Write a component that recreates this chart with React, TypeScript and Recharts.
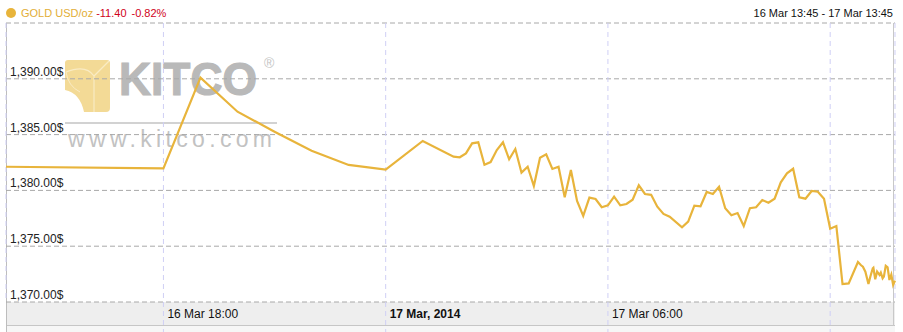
import React from "react";
import { LineChart, Line, XAxis, YAxis, CartesianGrid } from "recharts";

// minutes since 16 Mar 13:45
const minutes = [
  0, 255, 315, 375, 435, 495, 555, 615, 675, 725, 735, 745, 755, 765, 775, 785, 795, 805, 815, 825,
  835, 845, 855, 865, 875, 885, 895, 905, 915, 925, 935, 945, 955, 965, 975, 985, 995, 1005, 1015,
  1025, 1035, 1045, 1055, 1065, 1075, 1095, 1105, 1115, 1125, 1135, 1145, 1155, 1165, 1175, 1185,
  1195, 1205, 1215, 1225, 1235, 1245, 1255, 1265, 1275, 1285, 1295, 1305, 1315, 1325, 1335, 1345,
  1355, 1365, 1380, 1385, 1388, 1392, 1397, 1400, 1404, 1405, 1408, 1411, 1415, 1417, 1420, 1422,
  1425, 1428, 1431, 1434, 1437, 1440,
];

const prices = [
  1382.12, 1381.98, 1390.1, 1387.05, 1385.26, 1383.56, 1382.28, 1381.87, 1384.43, 1383.02, 1382.97,
  1383.32, 1384.22, 1384.31, 1382.3, 1382.54, 1383.62, 1384.31, 1382.79, 1383.71, 1381.59, 1382.12,
  1380.39, 1382.93, 1383.23, 1381.92, 1382.12, 1379.38, 1381.83, 1379.05, 1377.71, 1379.35, 1379.23,
  1378.49, 1378.66, 1379.44, 1378.66, 1378.78, 1379.17, 1380.46, 1379.68, 1379.6, 1378.54, 1377.89,
  1377.64, 1376.69, 1377.2, 1378.63, 1378.58, 1379.86, 1379.68, 1380.33, 1378.4, 1377.77, 1377.97,
  1376.81, 1378.4, 1378.49, 1379.14, 1378.9, 1379.26, 1380.73, 1381.53, 1381.94, 1379.38, 1379.26,
  1379.95, 1379.88, 1379.26, 1376.57, 1376.81, 1371.61, 1371.67, 1373.58, 1373.29, 1373.16, 1372.72,
  1371.61, 1372.27, 1373.02, 1373.07, 1372.03, 1372.72, 1372.42, 1372.63, 1372.12, 1372.27, 1373.25,
  1373.11, 1371.97, 1372.45, 1371.52, 1371.91,
];

const xTicks = [255, 615, 975, 1335];
const xTickLabels = ["16 Mar 18:00", "17 Mar, 2014", "17 Mar 06:00", ""];
const yTicks = [1370, 1375, 1380, 1385, 1390, 1395];
const yLabelTicks = [1370, 1375, 1380, 1385, 1390];

const title = "GOLD USD/oz";
const change = "-11.40";
const changePct = "-0.82%";
const rangeLabel = "16 Mar 13:45 - 17 Mar 13:45";

const data = minutes.map((t, i) => ({ t, price: prices[i] }));

const W = 903;
const H = 332;
const LEFT = 6;
const RIGHT = 895;
const TOP = 23;
const BOTTOM = 302;
const FONT = "'Liberation Sans', Arial, Helvetica, sans-serif";
const GOLD = "#e8b43b";

const YTick = (props: any) => {
  const { y, payload } = props;
  if (!yLabelTicks.includes(payload.value)) return <g />;
  const label =
    payload.value.toLocaleString("en-US", { minimumFractionDigits: 2, maximumFractionDigits: 2 }) + "$";
  return (
    <text x={LEFT + 4} y={y - 3} fontSize={12} fontFamily={FONT} fill="#222" textAnchor="start">
      {label}
    </text>
  );
};

const XTick = (props: any) => {
  const { x, payload } = props;
  const idx = xTicks.indexOf(payload.value);
  const label = idx >= 0 ? xTickLabels[idx] : "";
  return (
    <g>
      <line x1={x} x2={x} y1={BOTTOM} y2={H} stroke="#cfcff5" strokeDasharray="5 4" />
      <text
        x={x + 4}
        y={318}
        fontSize={12}
        fontFamily={FONT}
        fill="#111"
        fontWeight={idx === 1 ? 700 : 400}
        textAnchor="start"
      >
        {label}
      </text>
    </g>
  );
};

const Background = () => (
  <svg width={W} height={H} style={{ position: "absolute", left: 0, top: 0 }}>
    <rect x={0} y={0} width={W} height={H} fill="#fff" />
    {/* header */}
    <circle cx={11} cy={13} r={5} fill={GOLD} />
    <text x={21} y={17} fontSize={11} fontFamily={FONT}>
      <tspan fill="#e2ae36">{title}</tspan>
      <tspan fill="#d0021b" dx={3}>{change}</tspan>
      <tspan fill="#d0021b" dx={5}>{changePct}</tspan>
    </text>
    <text x={893} y={17} fontSize={11} fontFamily={FONT} fill="#111" textAnchor="end">
      {rangeLabel}
    </text>
    {/* watermark */}
    <path
      d="M65,63 Q65,60 68,60 L107,60 Q110,60 110,63 L110,108 Q110,112 106,112 L84,112 Q80,93 65,90 Z"
      fill="#f3da96"
    />
    <path d="M66,72 Q86,64 94,76 L94,112" fill="none" stroke="#f9ebc4" strokeWidth={1.2} />
    <path d="M94,76 L109,61" fill="none" stroke="#f9ebc4" strokeWidth={1.2} />
    <path d="M66,72 Q68,86 80,92" fill="none" stroke="#f9ebc4" strokeWidth={1} />
    <text
      x={119}
      y={95}
      fontSize={47}
      fontWeight={700}
      fontFamily={FONT}
      fill="#b9b9b9"
      stroke="#b9b9b9"
      strokeWidth={1.2}
      textLength={138}
      lengthAdjust="spacingAndGlyphs"
    >
      KITCO
    </text>
    <text x={264} y={68} fontSize={14} fontFamily={FONT} fill="#c4c4c4">
      ®
    </text>
    <line x1={65} x2={277} y1={123} y2={123} stroke="#d2d2d2" strokeWidth={2} />
    <text
      x={68}
      y={147}
      fontSize={23}
      fontFamily={FONT}
      fill="#c2c2c2"
      textLength={204}
      lengthAdjust="spacing"
    >
      www.kitco.com
    </text>
    {/* x axis band */}
    <rect x={LEFT} y={BOTTOM} width={RIGHT - LEFT} height={24} fill="#eeeeee" />
    <rect x={LEFT} y={326} width={RIGHT - LEFT} height={6} fill="#f6f6f6" />
    <line x1={LEFT} x2={RIGHT} y1={325.5} y2={325.5} stroke="#c6c6c6" />
    <line x1={LEFT + 0.5} x2={LEFT + 0.5} y1={TOP} y2={H} stroke="#bdbdbd" />
    <line x1={RIGHT - 1.5} x2={RIGHT - 1.5} y1={TOP} y2={326} stroke="#c8c8c8" />
  </svg>
);

export default function App() {
  return (
    <div style={{ position: "absolute", left: 0, top: 0, width: W, height: H }}>
      <Background />
      <div style={{ position: "absolute", left: 0, top: 0 }}>
        <LineChart
          width={W}
          height={H}
          data={data}
          margin={{ top: TOP, left: LEFT, right: W - RIGHT, bottom: 6 }}
        >
          <CartesianGrid vertical={false} stroke="#a8a8a8" strokeDasharray="5 3" />
          <CartesianGrid horizontal={false} stroke="#cfcff5" strokeDasharray="5 4" />
          <XAxis
            dataKey="t"
            type="number"
            domain={[0, 1440]}
            ticks={xTicks}
            height={24}
            axisLine={false}
            tickLine={false}
            tick={<XTick />}
            interval={0}
          />
          <YAxis
            type="number"
            domain={[1370, 1395]}
            ticks={yTicks}
            width={60}
            mirror
            axisLine={false}
            tickLine={false}
            tick={<YTick />}
            interval={0}
          />
          <Line
            type="linear"
            dataKey="price"
            stroke={GOLD}
            strokeWidth={2.2}
            dot={false}
            isAnimationActive={false}
          />
        </LineChart>
      </div>
    </div>
  );
}
